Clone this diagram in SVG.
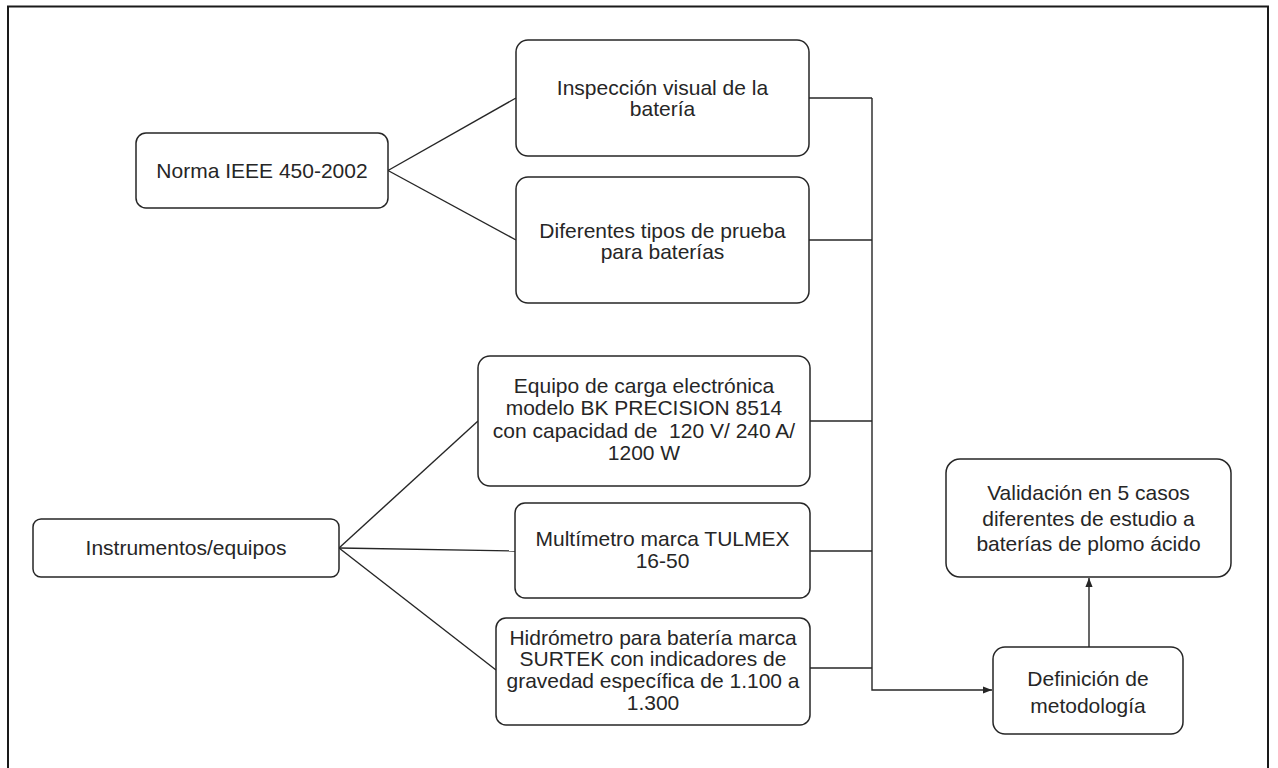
<svg xmlns="http://www.w3.org/2000/svg" width="1278" height="768" viewBox="0 0 1278 768">
<style>
  .box { fill: #ffffff; stroke: #262626; stroke-width: 1.5; }
  .t { font-family: "Liberation Sans", Arial, sans-serif; font-size: 21px; fill: #262626; text-anchor: middle; }
  .c { fill: none; stroke: #262626; stroke-width: 1.4; }
</style>
<defs>
  <marker id="arr" viewBox="0 0 10 10" refX="10" refY="5" markerWidth="9" markerHeight="9" markerUnits="userSpaceOnUse" orient="auto">
    <path d="M0,1 L10,5 L0,9 Z" fill="#262626"/>
  </marker>
</defs>
<rect width="1278" height="768" fill="#ffffff"/>
<rect x="8" y="6.5" width="1260" height="780" fill="none" stroke="#1a1a1a" stroke-width="2"/>

<g id="connectors">
  <line class="c" x1="388" y1="170.5" x2="516" y2="98"/>
  <line class="c" x1="388" y1="170.5" x2="516" y2="240"/>
  <line class="c" x1="339" y1="548" x2="478" y2="421"/>
  <line class="c" x1="339" y1="548" x2="515" y2="551"/>
  <line class="c" x1="339" y1="548" x2="496" y2="670"/>
  <line class="c" x1="809" y1="98" x2="872" y2="98"/>
  <line class="c" x1="809" y1="240" x2="872" y2="240"/>
  <line class="c" x1="810" y1="421" x2="872" y2="421"/>
  <line class="c" x1="810" y1="551" x2="872" y2="551"/>
  <line class="c" x1="810" y1="668" x2="872" y2="668"/>
  <polyline class="c" points="872,98 872,690 992,690" marker-end="url(#arr)"/>
  <line class="c" x1="1089" y1="647" x2="1089" y2="578" marker-end="url(#arr)"/>
</g>

<g id="norma">
  <rect class="box" x="136" y="133" width="252" height="75" rx="10"/>
  <text class="t" x="262" y="177.5">Norma IEEE 450-2002</text>
</g>
<g id="inspeccion">
  <rect class="box" x="516" y="40" width="293" height="116" rx="12"/>
  <text class="t" x="662.5" y="94.5">Inspección visual de la</text>
  <text class="t" x="662.5" y="116">batería</text>
</g>
<g id="diferentes">
  <rect class="box" x="516" y="177" width="293" height="126" rx="12"/>
  <text class="t" x="662.5" y="237.5">Diferentes tipos de prueba</text>
  <text class="t" x="662.5" y="258.5">para baterías</text>
</g>
<g id="instrumentos">
  <rect class="box" x="33" y="519" width="306" height="58" rx="8"/>
  <text class="t" x="186" y="554.5">Instrumentos/equipos</text>
</g>
<g id="equipo">
  <rect class="box" x="478" y="356" width="332" height="130" rx="12"/>
  <text class="t" x="644" y="392.5">Equipo de carga electrónica</text>
  <text class="t" x="644" y="415">modelo BK PRECISION 8514</text>
  <text class="t" x="644" y="437.5" xml:space="preserve">con capacidad de  120 V/ 240 A/</text>
  <text class="t" x="644" y="459.5">1200 W</text>
</g>
<g id="multimetro">
  <rect class="box" x="515" y="503" width="295" height="95" rx="10"/>
  <text class="t" x="662.5" y="545.5">Multímetro marca TULMEX</text>
  <text class="t" x="662.5" y="567.5">16-50</text>
</g>
<g id="hidrometro">
  <rect class="box" x="496" y="618" width="314" height="107" rx="10"/>
  <text class="t" x="653" y="644.5">Hidrómetro para batería marca</text>
  <text class="t" x="653" y="666">SURTEK con indicadores de</text>
  <text class="t" x="653" y="687.5">gravedad específica de 1.100 a</text>
  <text class="t" x="653" y="709.5">1.300</text>
</g>
<g id="validacion">
  <rect class="box" x="946" y="459" width="285" height="118" rx="14"/>
  <text class="t" x="1088.5" y="499.5">Validación en 5 casos</text>
  <text class="t" x="1088.5" y="525.5">diferentes de estudio a</text>
  <text class="t" x="1088.5" y="550.5">baterías de plomo ácido</text>
</g>
<g id="definicion">
  <rect class="box" x="993" y="647" width="190" height="87" rx="12"/>
  <text class="t" x="1088" y="685.5">Definición de</text>
  <text class="t" x="1088" y="712.5">metodología</text>
</g>
</svg>
